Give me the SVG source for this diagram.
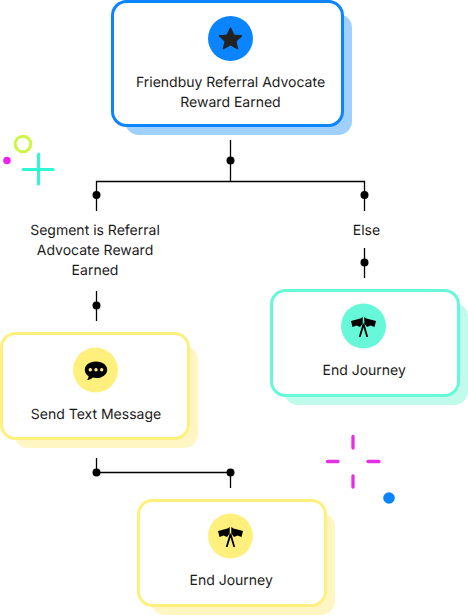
<svg xmlns="http://www.w3.org/2000/svg" width="468" height="616" viewBox="0 0 468 616">
<style>
text{font-family:Inter,"Liberation Sans",sans-serif;font-size:14px;fill:#1a1a1a;text-anchor:middle;text-rendering:geometricPrecision}
.card{fill:#fff;stroke-width:3}
.conn{fill:none;stroke:#000;stroke-width:1.3}
.dot{fill:#000}
</style>
<defs>
<g id="flags">
<path d="M-0.8 -9.500L-3 -8L-12.500 -5.500L-11 0.500L-7 -1L-3.500 0.500L-0.800 -3Z M0.800 -9.500L3 -8L12.500 -5.500L11 0.500L7 -1L3.500 0.500L0.800 -3Z"/>
<path d="M-0.800 -3L-4.700 10.500H-2.900L0 1L2.900 10.500H4.700L0.800 -3Z"/>
</g>
</defs>
<g id="decor">
<circle cx="23" cy="144" r="7.800" fill="none" stroke="#cdf545" stroke-width="3"/>
<circle cx="7" cy="160.500" r="3.800" fill="#ee22ee"/>
<path d="M38.500 154V184M23 169.500H53" fill="none" stroke="#2ff7d2" stroke-width="3" stroke-linecap="round"/>
<path d="M353 436.500V448M353 476V487M327.500 461.500H338M368 461.500H379" fill="none" stroke="#e62ee6" stroke-width="3.300" stroke-linecap="round"/>
<circle cx="389" cy="498" r="5.800" fill="#0a84ff"/>
</g>
<g id="connectors">
<path class="conn" d="M230.500 140V181M96.500 211V181.500H364.500V211"/>
<circle class="dot" cx="230.500" cy="160.500" r="4"/>
<circle class="dot" cx="96.500" cy="195" r="4"/>
<circle class="dot" cx="364.500" cy="195" r="4"/>
<path class="conn" d="M96.500 291V321"/>
<circle class="dot" cx="96.500" cy="305.500" r="4"/>
<path class="conn" d="M364.500 248V278"/>
<circle class="dot" cx="364.500" cy="262.500" r="4"/>
<path class="conn" d="M96.500 458V472.500H230.500V488"/>
<circle class="dot" cx="96.500" cy="472.500" r="4"/>
<circle class="dot" cx="230.500" cy="472.500" r="4"/>
</g>
<g id="label-segment">
<text x="95" y="235">Segment is Referral</text>
<text x="95" y="255">Advocate Reward</text>
<text x="95" y="275">Earned</text>
</g>
<g id="label-else"><text x="366.500" y="235">Else</text></g>
<g id="node-trigger">
<rect x="125" y="14" width="227" height="121" rx="14" fill="#9fd0ff"/>
<rect class="card" x="112.500" y="1.500" width="230" height="124" rx="14" stroke="#0a84ff"/>
<circle cx="230.500" cy="38.500" r="22.500" fill="#0a84ff"/>
<path d="M230.500 27.500L234 35L242 35.800L236 41.400L237.800 49L230.500 45L223.200 49L225 41.400L219 35.800L227 35Z" fill="#222" stroke="#222" stroke-linejoin="round"/>
<text x="230.500" y="87">Friendbuy Referral Advocate</text>
<text x="230.500" y="107">Reward Earned</text>
</g>
<g id="node-end-teal">
<rect x="284" y="303" width="184" height="102" rx="14" fill="#c0fbeb"/>
<rect class="card" x="271.500" y="290.500" width="187" height="105" rx="14" stroke="#66f8d8"/>
<circle cx="363.500" cy="326" r="22.500" fill="#66f8d8"/>
<use href="#flags" x="363.500" y="326.500"/>
<text x="364.200" y="375">End Journey</text>
</g>
<g id="node-send">
<rect x="14" y="346" width="184" height="102" rx="14" fill="#fff6c4"/>
<rect class="card" x="1.500" y="333.500" width="187" height="105" rx="14" stroke="#fff07e"/>
<circle cx="95.500" cy="370" r="22.500" fill="#fff07e"/>
<path d="M96 361.500C89 361.500 84.800 365.300 84.800 369.700C84.800 372.500 86.300 374.900 88.600 376.300C88.500 378 87.700 379 87 380C89.500 380 91.500 379 92.700 377.600C93.800 377.800 94.900 378 96 378C103 378 107.200 374.200 107.200 369.700C107.200 365.300 103 361.500 96 361.500Z" fill="#000"/>
<circle cx="90.300" cy="369.700" r="1.700" fill="#fff07e"/><circle cx="96" cy="369.700" r="1.700" fill="#fff07e"/><circle cx="101.700" cy="369.700" r="1.700" fill="#fff07e"/>
<text x="96" y="419">Send Text Message</text>
</g>
<g id="node-end-yellow">
<rect x="151" y="513" width="184" height="102" rx="14" fill="#fff6c4"/>
<rect class="card" x="138.500" y="500.500" width="187" height="105" rx="14" stroke="#fff07e"/>
<circle cx="230.500" cy="536" r="22.500" fill="#fff07e"/>
<use href="#flags" x="230.500" y="536.500"/>
<text x="231.200" y="585">End Journey</text>
</g>
</svg>
